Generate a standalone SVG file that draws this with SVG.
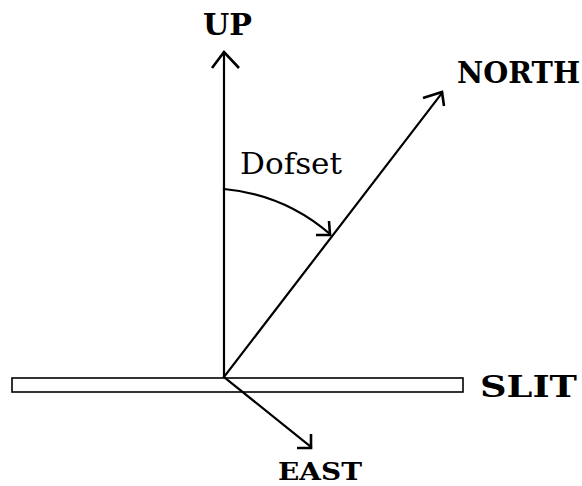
<svg xmlns="http://www.w3.org/2000/svg" width="582" height="486" viewBox="0 0 582 486">
<style>
.ln{fill:none;stroke:#000;stroke-width:2.2;stroke-linecap:square}
.hd{fill:none;stroke:#000;stroke-width:2.6;stroke-linejoin:miter}
.lbl{font-family:"DejaVu Serif","Liberation Serif",serif;font-weight:bold;font-size:29px;fill:#000}
.dof{font-family:"DejaVu Serif","Liberation Serif",serif;font-size:29px;fill:#000}
</style>
<rect width="582" height="486" fill="#fff"/>
<g id="slit">
<rect x="12" y="378" width="451" height="14" fill="#fff" stroke="#000" stroke-width="1.6"/>
<text class="lbl" x="480" y="397" textLength="97" lengthAdjust="spacingAndGlyphs">SLIT</text>
</g>
<g id="connectors">
<line class="ln" x1="224" y1="377" x2="224" y2="53"/>
<polyline class="hd" points="212,68 224,52 239,68"/>
<line class="ln" x1="224" y1="377" x2="442" y2="93"/>
<polyline class="hd" points="423,98 442,92 444,106"/>
<line class="ln" x1="224" y1="377" x2="311" y2="447"/>
<polyline class="hd" points="297,448 311,448 311,434"/>
<path class="ln" d="M224,189 A188,188 0 0 1 330,234" stroke-width="1.8"/>
<polyline class="hd" points="316,235 330,235 329,221"/>
</g>
<g id="up"><text class="lbl" x="203" y="35" textLength="49" lengthAdjust="spacingAndGlyphs">UP</text></g>
<g id="north"><text class="lbl" x="457" y="83" textLength="123" lengthAdjust="spacingAndGlyphs">NORTH</text></g>
<g id="east"><text class="lbl" x="278" y="480" font-size="25" style="font-size:25px" textLength="84" lengthAdjust="spacingAndGlyphs">EAST</text></g>
<g id="dofset"><text class="dof" x="240" y="174" textLength="102" lengthAdjust="spacingAndGlyphs">Dofset</text></g>
</svg>
